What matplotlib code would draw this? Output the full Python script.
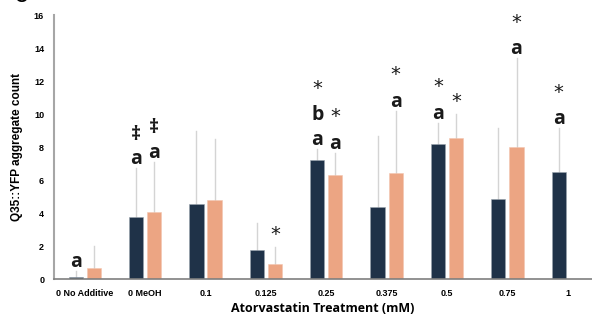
import numpy as np
import matplotlib
matplotlib.use("Agg")
import matplotlib.pyplot as plt

# groups on the x axis
categories = ["0 No Additive", "0 MeOH", "0.1", "0.125", "0.25", "0.375", "0.5", "0.75", "1"]

# dark series (navy) and light series (salmon) means
dark_vals = [0.12, 3.78, 4.57, 1.77, 7.2, 4.39, 8.18, 4.87, 6.5]
light_vals = [0.68, 4.05, 4.8, 0.9, 6.3, 6.4, 8.52, 8.02, 0.0]

# upper error (amount above the bar)
dark_err = [0.38, 2.92, 4.43, 1.63, 0.7, 4.27, 1.29, 4.3, 2.65]
light_err = [1.32, 3.05, 3.7, 1.07, 1.35, 3.8, 1.5, 5.38, 0.0]

# significance marks, listed from bottom to top
dark_marks = [["a"], ["a", "\u2021"], [], [], ["a", "b", "*"], [], ["a", "*"], [], ["a", "*"]]
light_marks = [[], ["a", "\u2021"], [], ["*"], ["a", "*"], ["a", "*"], ["*"], ["a", "*"], []]

DARK = "#1f3248"
LIGHT = "#eca583"

plt.rcParams["font.family"] = ["Liberation Sans", "DejaVu Sans"]

fig = plt.figure(figsize=(5.92, 3.2), dpi=100)
ax = fig.add_axes([0.091, 0.128, 0.909, 0.825])

x = np.arange(len(categories))
w = 0.235
off = 0.15

ax.bar(x - off, dark_vals, w, color=DARK, edgecolor="#9aa3ad", linewidth=0.4, zorder=2)
ax.bar(x + off, light_vals, w, color=LIGHT, edgecolor="#f3c6b0", linewidth=0.4, zorder=2)

# upper-only error bars, no caps
for xs, vals, errs in [(x - off, dark_vals, dark_err), (x + off, light_vals, light_err)]:
    for xi, v, e in zip(xs, vals, errs):
        if e > 0:
            ax.plot([xi, xi], [v, v + e], color="#d4d4d4", lw=1.0, zorder=1)

# letters and symbols above the bars (positions are glyph centres)
def put_marks(xs, vals, errs, marks):
    for xi, v, e, ms in zip(xs, vals, errs, marks):
        top = v + e
        c = None
        for m in ms:
            if c is None:
                c = top + (0.9 if m == "*" else 0.65)
            else:
                c += 1.7 if m == "*" else 1.5
            if m == "*":
                ax.text(xi, c - 0.75, m, ha="center", va="bottom", fontsize=14,
                        family=["DejaVu Sans"], color="#1a1a1a")
            else:
                ax.text(xi, c - 0.7, m, ha="center", va="bottom", fontsize=14,
                        family=["Open Sans", "DejaVu Sans"], fontweight="bold",
                        color="#1a1a1a")

put_marks(x - off, dark_vals, dark_err, dark_marks)
put_marks(x + off, light_vals, light_err, light_marks)

ax.set_xlim(-0.51, 8.4)
ax.set_ylim(0, 16)
ax.set_yticks(range(0, 17, 2))
ax.set_xticks(x)
ax.set_xticklabels(categories)
ax.tick_params(length=0, labelsize=6.5, pad=7)
for lab in ax.get_xticklabels() + ax.get_yticklabels():
    lab.set_fontweight("bold")

for s in ["top", "right"]:
    ax.spines[s].set_visible(False)
ax.spines["left"].set_color("#a6a6a6")
ax.spines["left"].set_linewidth(1.5)
ax.spines["bottom"].set_color("#7f7f7f")
ax.spines["bottom"].set_linewidth(1.2)

ax.set_ylabel("Q35::YFP aggregate count", fontsize=8.5, fontweight="bold", labelpad=8)
ax.set_xlabel("Atorvastatin Treatment (mM)", fontsize=9, fontweight="bold", labelpad=3,
              family=["Open Sans", "DejaVu Sans"])

# panel letter, cut off at top of image
fig.text(0.035, 1.008, "C", fontsize=13, fontweight="bold", ha="center", va="center")

fig.savefig("out.png", dpi=100)
